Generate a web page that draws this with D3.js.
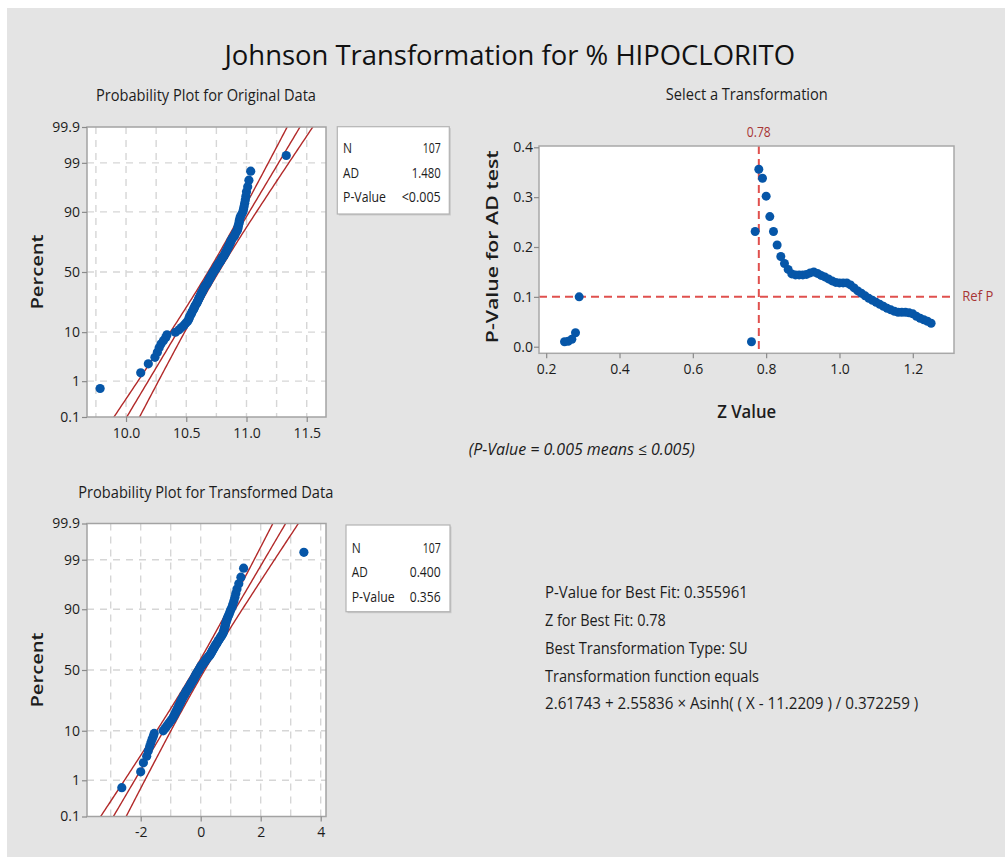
<!DOCTYPE html>
<html><head><meta charset="utf-8">
<script src="https://cdn.jsdelivr.net/npm/d3@7"></script>
<style>
html,body{margin:0;padding:0;background:#fff;}
svg{display:block;font-family:"Open Sans","Noto Sans",sans-serif;}
</style></head><body>
<svg id="chart" width="1005" height="857"></svg>
<script>
// ---------------- data ----------------
const titleText = "Johnson Transformation for % HIPOCLORITO";
const originalData = [9.785,10.122,10.185,10.24,10.26,10.275,10.29,10.31,10.33,10.34,
10.41,10.44,10.46,10.48,10.495,10.51,10.52,10.525,10.53,10.54,
10.545,10.55,10.56,10.565,10.57,10.575,10.585,10.59,10.595,10.60,
10.605,10.61,10.615,10.62,10.625,10.63,10.635,10.64,10.645,10.65,
10.655,10.66,10.67,10.675,10.68,10.685,10.69,10.695,10.70,10.705,
10.71,10.715,10.72,10.725,10.73,10.74,10.745,10.75,10.755,10.76,
10.765,10.77,10.78,10.785,10.79,10.795,10.80,10.81,10.815,10.82,
10.825,10.83,10.835,10.84,10.845,10.85,10.855,10.86,10.865,10.87,
10.875,10.88,10.89,10.90,10.905,10.91,10.92,10.925,10.93,10.93,
10.935,10.94,10.94,10.945,10.95,10.96,10.97,10.975,10.98,10.985,
10.99,10.995,11.0,11.01,11.02,11.035,11.33];
const transformedData = [-2.63,-2.00,-1.91,-1.80,-1.75,-1.70,-1.66,-1.62,-1.58,-1.55,
-1.25,-1.19,-1.13,-1.08,-1.03,-0.98,-0.93,-0.90,-0.87,-0.84,
-0.82,-0.79,-0.76,-0.74,-0.72,-0.69,-0.67,-0.65,-0.63,-0.60,
-0.58,-0.56,-0.53,-0.51,-0.49,-0.46,-0.44,-0.41,-0.39,-0.36,
-0.34,-0.32,-0.30,-0.27,-0.25,-0.23,-0.21,-0.19,-0.17,-0.15,
-0.13,-0.11,-0.08,-0.06,-0.04,-0.02,0.00,0.03,0.06,0.09,
0.12,0.15,0.17,0.20,0.23,0.27,0.30,0.32,0.35,0.37,
0.39,0.41,0.44,0.46,0.48,0.51,0.54,0.56,0.59,0.62,
0.65,0.68,0.71,0.74,0.76,0.77,0.79,0.80,0.82,0.83,
0.85,0.87,0.89,0.92,0.95,0.98,1.01,1.05,1.08,1.11,
1.14,1.17,1.21,1.27,1.34,1.43,3.44];
const zValues = [0.25,0.26,0.27,0.28,0.29,
0.76,0.77,0.78,0.79,0.80,0.81,0.82,0.83,0.84,0.85,0.86,
0.87,0.88,0.89,0.90,0.91,0.92,0.93,0.94,0.95,0.96,0.97,0.98,0.99,1.00,1.01,
1.02,1.03,1.04,1.05,1.06,1.07,1.08,1.09,1.10,1.11,1.12,1.13,1.14,1.15,1.16,
1.17,1.18,1.19,1.20,1.21,1.22,1.23,1.24,1.25];
const zPValues = [0.010,0.011,0.015,0.028,0.100,
0.010,0.231,0.356,0.338,0.302,0.261,0.231,0.204,0.181,0.167,0.155,
0.146,0.144,0.144,0.144,0.145,0.148,0.150,0.147,0.143,0.140,0.136,0.132,0.129,0.128,0.128,
0.128,0.124,0.118,0.112,0.107,0.102,0.097,0.093,0.089,0.085,0.081,0.077,0.074,0.071,0.069,
0.069,0.069,0.068,0.066,0.061,0.057,0.054,0.051,0.047];
const percentTicks = [0.1,1,10,50,90,99,99.9];
const percentLabels = ["0.1","1","10","50","90","99","99.9"];
const percentGrid = [1,10,50,90,99];
const origTicks = [10.0,10.5,11.0,11.5];
const origGrid = [9.75,10,10.25,10.5,10.75,11,11.25,11.5];
const transTicks = [-2,0,2,4];
const transGrid = [-3,-2,-1,0,1,2,3,4];
const zTicks = [0.2,0.4,0.6,0.8,1.0,1.2];
const pTicks = [0,0.1,0.2,0.3,0.4];
const origStats = [["N","107"],["AD","1.480"],["P-Value","<0.005"]];
const transStats = [["N","107"],["AD","0.400"],["P-Value","0.356"]];
const origFit = {mean:10.725, sd:0.2327};
const transFit = {mean:-0.04, sd:0.929};
const bestZ = 0.78, refP = 0.1;
const summaryLines = ["P-Value for Best Fit: 0.355961","Z for Best Fit: 0.78",
"Best Transformation Type: SU","Transformation function equals",
"2.61743 + 2.55836 × Asinh( ( X - 11.2209 ) / 0.372259 )"];

// ---------------- helpers ----------------
function probit(p){
 const a=[-3.969683028665376e+01,2.209460984245205e+02,-2.759285104469687e+02,1.383577518672690e+02,-3.066479806614716e+01,2.506628277459239e+00];
 const b=[-5.447609879822406e+01,1.615858368580409e+02,-1.556989798598866e+02,6.680131188771972e+01,-1.328068155288572e+01];
 const c=[-7.784894002430293e-03,-3.223964580411365e-01,-2.400758277161838e+00,-2.549732539343734e+00,4.374664141464968e+00,2.938163982698783e+00];
 const d=[7.784695709041462e-03,3.224671290700398e-01,2.445134137142996e+00,3.754408661907416e+00];
 const pl=0.02425, ph=1-pl; let q,r;
 if(p<pl){q=Math.sqrt(-2*Math.log(p));return (((((c[0]*q+c[1])*q+c[2])*q+c[3])*q+c[4])*q+c[5])/((((d[0]*q+d[1])*q+d[2])*q+d[3])*q+1);}
 if(p<=ph){q=p-0.5;r=q*q;return (((((a[0]*r+a[1])*r+a[2])*r+a[3])*r+a[4])*r+a[5])*q/(((((b[0]*r+b[1])*r+b[2])*r+b[3])*r+b[4])*r+1);}
 q=Math.sqrt(-2*Math.log(1-p));return -(((((c[0]*q+c[1])*q+c[2])*q+c[3])*q+c[4])*q+c[5])/((((d[0]*q+d[1])*q+d[2])*q+d[3])*q+1);
}
const svg = d3.select("#chart");
const TXT = "#1c1c1c", DOT = "#0656a8", FIT = "#b22a2a", REF = "#e0504e", REFTXT = "#a83434";

function txt(str, x, y, o={}){
  const t = svg.append("text").attr("x",x).attr("y",y).text(str)
    .attr("font-size",o.size||14).attr("fill",o.fill||TXT);
  if(o.weight) t.attr("font-weight",o.weight);
  if(o.italic) t.attr("font-style","italic");
  if(o.width) t.attr("textLength",o.width).attr("lengthAdjust","spacingAndGlyphs");
  if(o.anchor) t.attr("text-anchor",o.anchor);
  if(o.rotate!==undefined) t.attr("transform",`rotate(${o.rotate},${o.rx},${o.ry})`);
  return t;
}

// background panel
svg.append("rect").attr("x",0).attr("y",0).attr("width",1005).attr("height",857).attr("fill","#ffffff");
svg.append("rect").attr("x",7).attr("y",8).attr("width",998).attr("height",849).attr("fill","#e4e4e4");

// title
txt(titleText, 224.5, 65, {size:28, width:570.5, fill:"#111"});

function styleAxis(g){
  g.select(".domain").remove();
  g.selectAll(".tick line").attr("stroke","#8a8a8a").attr("stroke-width",1.2);
  g.selectAll(".tick text").attr("fill",TXT).attr("font-size",14)
    .attr("font-family",'"Open Sans","Noto Sans",sans-serif');
}

function statBox(x0,y0,w,h,rows,lx,rx,baselines){
  svg.append("rect").attr("x",x0+1.5).attr("y",y0+1.5).attr("width",w).attr("height",h).attr("fill","#c9c9c9");
  svg.append("rect").attr("x",x0).attr("y",y0).attr("width",w).attr("height",h)
    .attr("fill","#fff").attr("stroke","#b3b3b3").attr("stroke-width",1.2);
  const widths = {"N":9,"AD":16,"P-Value":43,"107":18,"1.480":29,"<0.005":39,"0.400":31,"0.356":31};
  rows.forEach((r,i)=>{
    txt(r[0], lx, baselines[i], {size:14, width:widths[r[0]]});
    txt(r[1], rx-widths[r[1]], baselines[i], {size:14, width:widths[r[1]]});
  });
}

function probPlot(cfg){
  const {left,right,top,bottom,xDomain,data,fit,xTicks,xGrid,id} = cfg;
  const n = data.length;
  const x = d3.scaleLinear().domain(xDomain).range([left,right]);
  const zMax = probit(0.999);
  const y = d3.scaleLinear().domain([-zMax,zMax]).range([bottom,top]);
  svg.append("rect").attr("x",left).attr("y",top).attr("width",right-left).attr("height",bottom-top).attr("fill","#fff");
  svg.append("clipPath").attr("id",id).append("rect")
    .attr("x",left).attr("y",top).attr("width",right-left).attr("height",bottom-top);
  const g = svg.append("g").attr("clip-path",`url(#${id})`);
  g.selectAll(".vg").data(xGrid).enter().append("line")
    .attr("x1",d=>x(d)).attr("x2",d=>x(d)).attr("y1",top).attr("y2",bottom)
    .attr("stroke","#d6d6d6").attr("stroke-width",1.4).attr("stroke-dasharray","7,6");
  g.selectAll(".hg").data(percentGrid).enter().append("line")
    .attr("x1",left).attr("x2",right).attr("y1",d=>y(probit(d/100))).attr("y2",d=>y(probit(d/100)))
    .attr("stroke","#d6d6d6").attr("stroke-width",1.4).attr("stroke-dasharray","7,6");
  const zs = d3.range(-3.8, 3.81, 0.05);
  [-1,0,1].forEach(k=>{
    const line = d3.line()
      .x(z=>x(fit.mean + z*fit.sd + k*1.96*fit.sd*Math.sqrt(1/n + z*z/(2*(n-1)))))
      .y(z=>y(z));
    g.append("path").attr("d",line(zs)).attr("fill","none").attr("stroke",FIT).attr("stroke-width",1.4);
  });
  const sorted = data.slice().sort((a,b)=>a-b);
  g.selectAll(".pt").data(sorted).enter().append("circle")
    .attr("cx",d=>x(d)).attr("cy",(d,i)=>y(probit((i+1-0.3)/(n+0.4))))
    .attr("r",4.6).attr("fill",DOT);
  svg.append("rect").attr("x",left).attr("y",top).attr("width",right-left).attr("height",bottom-top)
    .attr("fill","none").attr("stroke","#a3a3a3").attr("stroke-width",1.5);
  const ax = svg.append("g").attr("transform",`translate(0,${bottom})`)
    .call(d3.axisBottom(x).tickValues(xTicks).tickSize(5).tickPadding(6)
      .tickFormat(cfg.xFormat));
  styleAxis(ax);
  const ay = svg.append("g").attr("transform",`translate(${left},0)`)
    .call(d3.axisLeft(y).tickValues(percentTicks.map(p=>probit(p/100))).tickSize(5).tickPadding(2)
      .tickFormat((d,i)=>percentLabels[i]));
  styleAxis(ay);
  const cy = (top+bottom)/2, bx = 43, w = 75;
  txt("Percent", bx - w/2, cy, {size:17, weight:600, width:w, rotate:-90, rx:bx, ry:cy});
}

// ---------- top-left ----------
txt("Probability Plot for Original Data", 96, 101, {size:17, width:220});
probPlot({left:87,right:326,top:127,bottom:417,xDomain:[9.676,11.66],data:originalData,fit:origFit,
  xTicks:origTicks,xGrid:origGrid,id:"c1",xFormat:d=>d.toFixed(1)});
statBox(337.3,126.7,112,87.3,origStats,343,440.7,[153,177.5,202]);

// ---------- bottom-left ----------
txt("Probability Plot for Transformed Data", 78.3, 498.3, {size:17, width:255});
probPlot({left:87,right:326,top:523.5,bottom:816.5,xDomain:[-3.79,4.177],data:transformedData,fit:transFit,
  xTicks:transTicks,xGrid:transGrid,id:"c2",xFormat:d=>String(d)});
statBox(346,525,104,86.7,transStats,351.7,440.7,[552.5,577,601.5]);

// ---------- top-right ----------
(function(){
  const left=539, right=954, top=146, bottom=353.3;
  const x = d3.scaleLinear().domain([0.1804,1.3124]).range([left,right]);
  const y = d3.scaleLinear().domain([-0.0132,0.4026]).range([bottom,top]);
  txt("Select a Transformation", 665.8, 100, {size:17, width:162});
  svg.append("rect").attr("x",left).attr("y",top).attr("width",right-left).attr("height",bottom-top).attr("fill","#fff");
  svg.append("line").attr("x1",left).attr("x2",right).attr("y1",y(refP)).attr("y2",y(refP))
    .attr("stroke",REF).attr("stroke-width",2).attr("stroke-dasharray","8,5");
  svg.append("line").attr("x1",x(bestZ)).attr("x2",x(bestZ)).attr("y1",top).attr("y2",bottom)
    .attr("stroke",REF).attr("stroke-width",2).attr("stroke-dasharray","8,5");
  svg.append("g").selectAll("circle").data(zValues).enter().append("circle")
    .attr("cx",d=>x(d)).attr("cy",(d,i)=>y(zPValues[i])).attr("r",4.5).attr("fill",DOT);
  svg.append("rect").attr("x",left).attr("y",top).attr("width",right-left).attr("height",bottom-top)
    .attr("fill","none").attr("stroke","#a8a8a8").attr("stroke-width",1.5);
  const ax = svg.append("g").attr("transform",`translate(0,${bottom})`)
    .call(d3.axisBottom(x).tickValues(zTicks).tickSize(5).tickPadding(6).tickFormat(d=>d.toFixed(1)));
  styleAxis(ax);
  const ay = svg.append("g").attr("transform",`translate(${left},0)`)
    .call(d3.axisLeft(y).tickValues(pTicks).tickSize(5).tickPadding(1).tickFormat(d=>d.toFixed(1)));
  styleAxis(ay);
  txt(String(bestZ), x(bestZ)-12, 136.7, {size:14, width:24, fill:REFTXT});
  txt("Ref P", 962.3, 300.5, {size:14, width:31, fill:REFTXT});
  txt("Z Value", 717.2, 418.3, {size:18, weight:600, width:59});
  const w=193, cy=246.7, bx=498;
  txt("P-Value for AD test", bx-w/2, cy, {size:17, weight:600, width:w, rotate:-90, rx:bx, ry:cy});
  txt("(P-Value = 0.005 means \u2264 0.005)", 468.7, 455, {size:16, italic:true, width:226});
})();

// ---------- summary text ----------
const sumBase = [598.3,626,654,681.7,709.3];
const sumW = [202.7,120.7,202.7,214,373.3];
summaryLines.forEach((s,i)=>txt(s, 545, sumBase[i], {size:16, width:sumW[i]}));
</script>
</body></html>
